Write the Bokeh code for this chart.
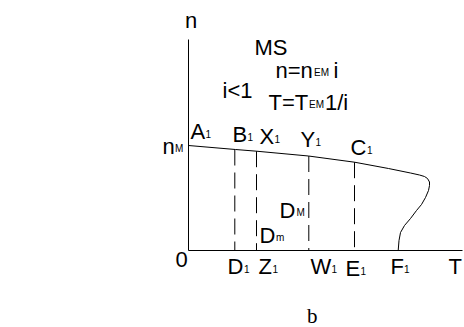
from bokeh.plotting import figure
from bokeh.models import Range1d, ColumnDataSource
from bokeh.core.properties import value
from bokeh.embed import file_html
from bokeh.resources import INLINE

# Mechanical characteristic n(T) of the drive, reduced through the gear ratio i
curve_T = [0, 47, 68, 120, 166, 200, 222, 231, 236, 239, 241, 241, 240, 237,
           233, 228, 222, 216, 212, 210.5, 209.7]
curve_n = [105, 101, 99.3, 94.5, 88.3, 82, 77.5, 75.5, 74, 72, 68.5, 65, 60,
           53, 46, 40, 32, 25, 18, 10, 0]

# Operating points D1, Z1, W1, E1 and the speed on the curve above each one
mark_T = [46.3, 68, 120.3, 166]
mark_n = [101, 99.3, 94.5, 88.3]

axis_T_max = 274
axis_n_max = 211

# Label text, subscripts and placement (left edge, baseline)
main_text = ["n", "MS", "n=n", "i", "T=T", "1/i", "i<1", "n", "A", "B", "X",
             "Y", "C", "D", "D", "0", "D", "Z", "W", "E", "F", "T"]
main_x = [-3.5, 66, 87, 145, 80, 136.5, 34, -26, 2, 44, 71, 112, 162, 91, 71,
          -13, 39, 70, 122, 157, 202, 260]
main_y = [223, 196, 173, 173, 141, 141, 153, 96.7, 112, 109, 107, 104, 96,
          33.3, 8.3, -16, -23, -23, -23, -25, -23, -23]

sub_text = ["EM", "EM", "M", "1", "1", "1", "1", "1", "M", "m", "1", "1", "1",
            "1", "1"]
sub_x = [125.5, 120.5, -13.5, 17, 59, 86, 127, 178.5, 108, 87.5, 55.5, 84,
         143, 172, 215.5]
sub_y = [173, 141, 96.7, 112, 109, 107, 104, 96, 33.3, 8.3, -23, -23, -23,
         -25, -23]

p = figure(width=464, height=327, output_backend="svg", toolbar_location=None,
           x_range=Range1d(-188, 276), y_range=Range1d(-77, 250),
           min_border=0, outline_line_color=None)
p.axis.visible = False
p.grid.visible = False
p.background_fill_color = "white"
p.border_fill_color = "white"

# Axes drawn as plain lines from the origin
p.segment(x0=[0, 0], y0=[0, 0], x1=[0, axis_T_max], y1=[axis_n_max, 0],
          line_color="black", line_width=1)

# Characteristic curve
p.line(curve_T, curve_n, line_color="black", line_width=1)

# Dashed verticals from the curve down to the T axis
p.segment(x0=mark_T, y0=mark_n, x1=mark_T, y1=[0] * len(mark_T),
          line_color="black", line_width=1, line_dash="16 7")

font = value("Liberation Sans")
p.text(x="x", y="y", text="t",
       source=ColumnDataSource(dict(x=main_x, y=main_y, t=main_text)),
       text_font=font, text_font_size="22px", text_color="black",
       text_align="left", text_baseline="alphabetic", y_offset=-7)
p.text(x="x", y="y", text="t",
       source=ColumnDataSource(dict(x=sub_x, y=sub_y, t=sub_text)),
       text_font=font, text_font_size="10px", text_color="black",
       text_align="left", text_baseline="alphabetic", y_offset=-5)

# Panel caption
p.text(x=[118.5], y=[-73.3], text=["b"], text_font=value("Liberation Serif"),
       text_font_size="21px", text_color="black", text_align="left",
       text_baseline="alphabetic", y_offset=-8)

open("out.html", "w").write(file_html(p, INLINE))
